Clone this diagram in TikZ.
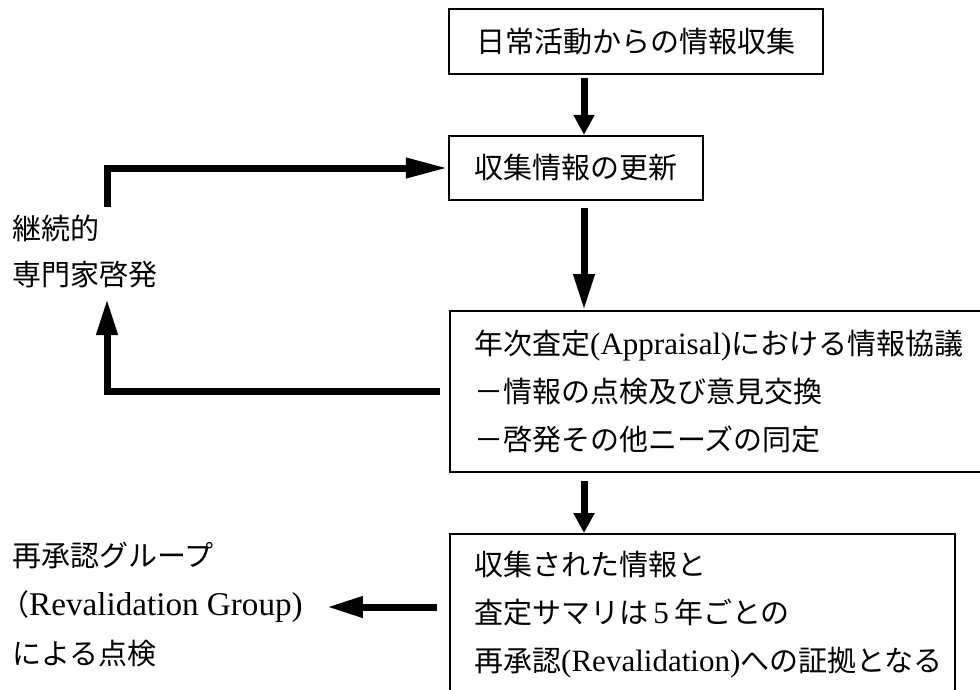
\documentclass[tikz,border=0pt]{standalone}
\usepackage{fontspec}
\setmainfont{Liberation Serif}[Scale=1.07]
\newfontfamily\cjk{Noto Sans CJK JP}
\usetikzlibrary{arrows.meta}
\newcommand\latn[1]{{\rmfamily #1}}
\begin{document}
\begin{tikzpicture}[x=1pt,y=-1pt,
  box/.style={draw, line width=2.4pt, inner sep=0pt},
  txt/.style={font=\fontsize{29}{48}\selectfont\cjk},
  lbl/.style={txt, anchor=west, inner sep=0pt},
  conn/.style={line width=7pt, line join=miter},
  tipS/.style={-{Triangle[length=20pt,width=20pt]}},
  tipL/.style={-{Triangle[length=36pt,width=20pt]}},
  tipH/.style={-{Triangle[length=42pt,width=19pt]}}]
\useasboundingbox (0,0) rectangle (980,689);
\clip (0,0) rectangle (980,689);
% boxes
\node[box,txt,minimum width=374pt,minimum height=65pt] (b1) at (636,41.5) {日常活動からの情報収集};
\node[box,txt,minimum width=254pt,minimum height=64pt] (b2) at (576,168) {収集情報の更新};
\node[box,txt,anchor=north west,text width=497pt,inner xsep=24pt,minimum height=161pt,align=left] (b3) at (449,310)
  {\mbox{年次査定\latn{(Appraisal)}における情報協議}\\\mbox{－情報の点検及び意見交換}\\\mbox{－啓発その他ニーズの同定}};
\node[box,txt,anchor=north west,text width=457pt,inner xsep=24pt,minimum height=160pt,align=left] (b4) at (449,533)
  {\mbox{収集された情報と}\\\mbox{査定サマリは\latn{\,5\,}年ごとの}\\\mbox{再承認\latn{(Revalidation)}への証拠となる}};
% left labels
\node[lbl] (k1) at (12,228) {継続的};
\node[lbl] (k2) at (12,275) {専門家啓発};
\node[lbl] (r1) at (12,556) {再承認グループ};
\node[lbl] (r2) at (0,607) {（{\fontsize{31}{40}\selectfont\rmfamily Revalidation Group)}};
\node[lbl] (r3) at (12,654) {による点検};
% connectors
\coordinate (ax) at (584,0);
\draw[conn,tipS,shorten <=3pt] (b1.south -| ax) -- (b2.north -| ax);
\draw[conn,tipL,shorten <=7pt] (b2.south -| ax) -- (b3.north -| ax);
\draw[conn,tipS,shorten <=8pt] (b3.south -| ax) -- (b4.north -| ax);
\coordinate (cL) at (107,207);
\draw[conn,tipH] (cL) |- (b2.west);
\coordinate (cU) at (107,299);
\draw[conn,tipL] ([xshift=-9pt]b3.west) -| (cU);
\draw[conn,tipL,shorten <=12pt] (b4.west |- r2.east) -- ([xshift=24pt]r2.east);
\end{tikzpicture}
\end{document}
